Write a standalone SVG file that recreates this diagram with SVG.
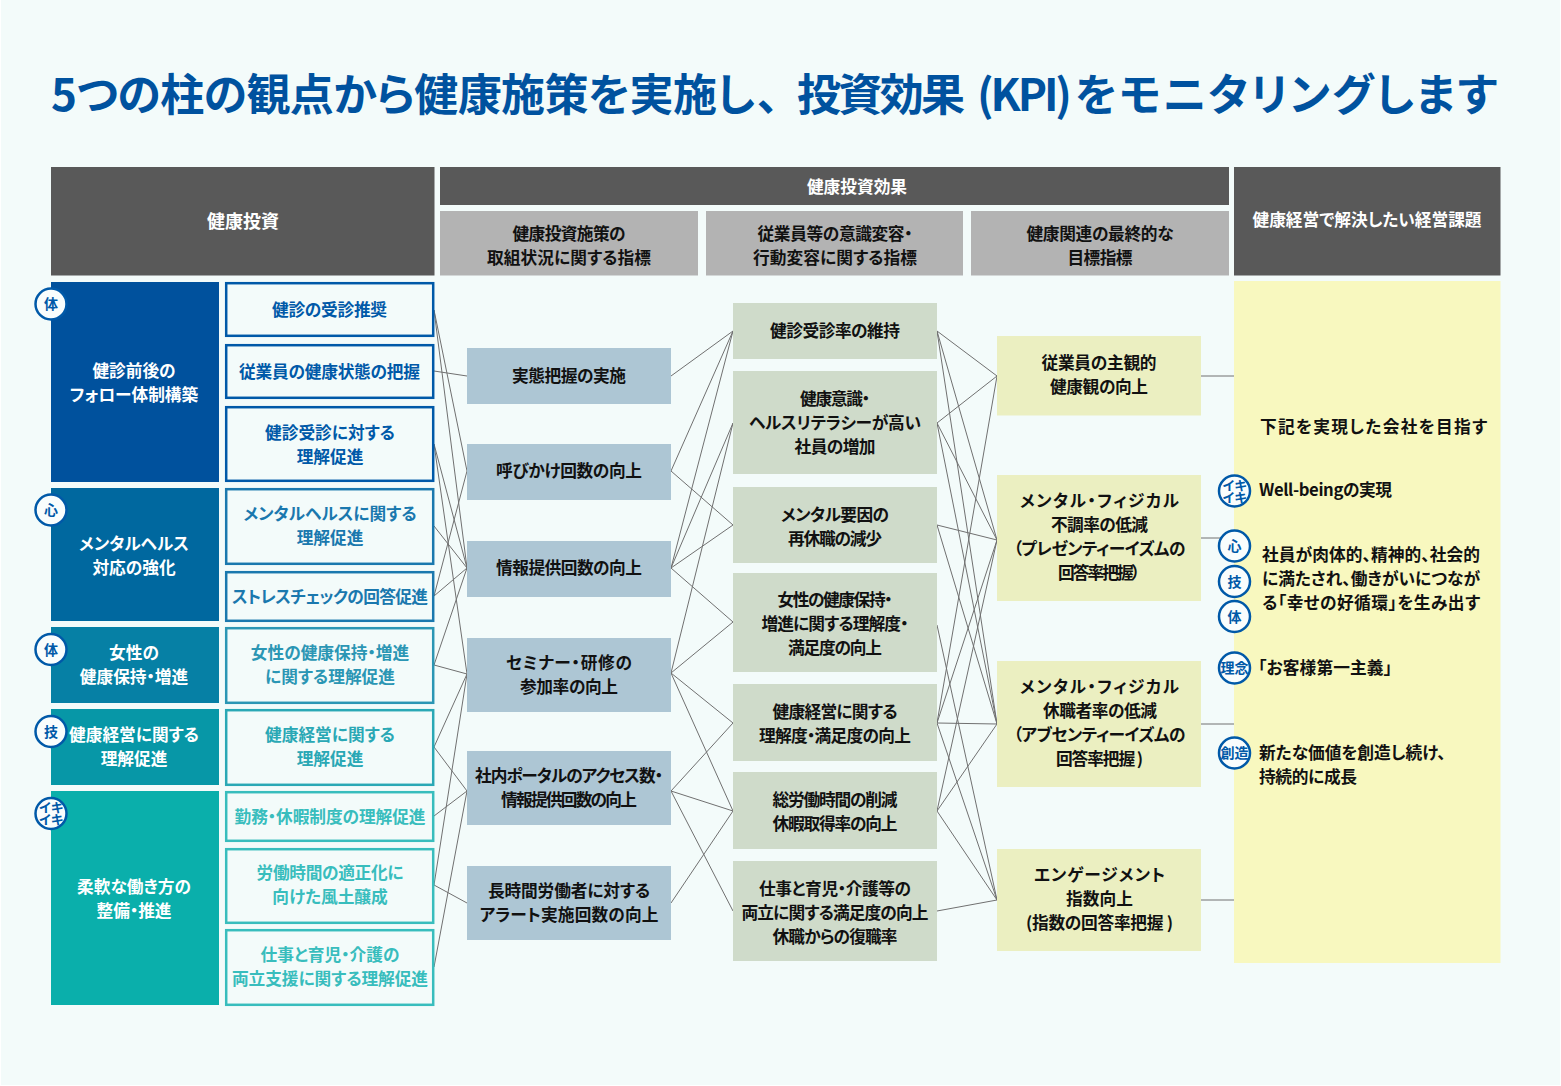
<svg xmlns="http://www.w3.org/2000/svg" width="1561" height="1086" viewBox="0 0 1561 1086">
<style>
text{font-family:"Noto Sans CJK JP","Noto Sans",sans-serif;font-weight:700;font-size:16.7px;text-anchor:middle;font-feature-settings:"palt";fill:#111}
.l{text-anchor:start}
.w{fill:#fff}
.t{font-size:44px;fill:#00529f;text-anchor:start}
.hd{fill:#595959}.sh{fill:#b3b3b3}.b{fill:#adc6d4}.c{fill:#cfdbca}.d{fill:#ebefc1}.e{fill:#f8f8bf}
.o{fill:#f3fbfa;stroke-width:2.5}
.bd{fill:#f9fdfd;stroke:#0059a8;stroke-width:2.5}
.bt{fill:#0059a8;font-size:14px}
.bs{fill:#0059a8;font-size:13px}
.c1{fill:#0059a8}.c2{fill:#1a78ae}.c3{fill:#2b96b4}.c4{fill:#2aa8b5}.c5{fill:#38bdbd}
#connectors line{stroke:#707070;stroke-width:1}
</style>
<rect width="1561" height="1086" fill="#fff"/>
<rect x="1" y="0" width="1559" height="1085" fill="#f3fbfa"/>
<text class="t" y="111"><tspan x="51" textLength="704" lengthAdjust="spacing">5つの柱の観点から健康施策を実施し</tspan><tspan x="757">、</tspan><tspan x="797" textLength="168" lengthAdjust="spacing">投資効果</tspan><tspan x="977" textLength="95" lengthAdjust="spacing">(KPI)</tspan><tspan x="1075" textLength="422" lengthAdjust="spacing">をモニタリングします</tspan></text>

<g id="connectors">
<line x1="434" y1="310" x2="467" y2="471"/><line x1="434" y1="310" x2="467" y2="568"/>
<line x1="434" y1="371" x2="467" y2="376"/>
<line x1="434" y1="444" x2="467" y2="568"/><line x1="434" y1="444" x2="467" y2="674"/>
<line x1="434" y1="526" x2="467" y2="568"/>
<line x1="434" y1="596" x2="467" y2="471"/><line x1="434" y1="596" x2="467" y2="568"/>
<line x1="434" y1="665" x2="467" y2="568"/><line x1="434" y1="665" x2="467" y2="674"/>
<line x1="434" y1="747" x2="467" y2="674"/><line x1="434" y1="747" x2="467" y2="791"/>
<line x1="434" y1="816" x2="467" y2="791"/>
<line x1="434" y1="885" x2="467" y2="674"/><line x1="434" y1="885" x2="467" y2="903"/>
<line x1="434" y1="967" x2="467" y2="791"/>

<line x1="671" y1="376" x2="733" y2="331"/>
<line x1="671" y1="471" x2="733" y2="331"/><line x1="671" y1="471" x2="733" y2="525"/>
<line x1="671" y1="568" x2="733" y2="331"/><line x1="671" y1="568" x2="733" y2="423"/><line x1="671" y1="568" x2="733" y2="525"/><line x1="671" y1="568" x2="733" y2="622"/>
<line x1="671" y1="673" x2="733" y2="423"/><line x1="671" y1="673" x2="733" y2="622"/><line x1="671" y1="673" x2="733" y2="723"/><line x1="671" y1="673" x2="733" y2="811"/>
<line x1="671" y1="791" x2="733" y2="723"/><line x1="671" y1="791" x2="733" y2="811"/><line x1="671" y1="791" x2="733" y2="911"/>
<line x1="671" y1="903" x2="733" y2="811"/>

<line x1="937" y1="331" x2="997" y2="376"/><line x1="937" y1="331" x2="997" y2="540"/><line x1="937" y1="331" x2="997" y2="724"/>
<line x1="937" y1="423" x2="997" y2="376"/><line x1="937" y1="423" x2="997" y2="540"/><line x1="937" y1="423" x2="997" y2="724"/>
<line x1="937" y1="525" x2="997" y2="540"/><line x1="937" y1="525" x2="997" y2="724"/>
<line x1="937" y1="625" x2="997" y2="900"/>
<line x1="937" y1="723" x2="997" y2="376"/><line x1="937" y1="723" x2="997" y2="540"/><line x1="937" y1="723" x2="997" y2="724"/><line x1="937" y1="723" x2="997" y2="900"/>
<line x1="937" y1="811" x2="997" y2="540"/><line x1="937" y1="811" x2="997" y2="724"/><line x1="937" y1="811" x2="997" y2="900"/>
<line x1="937" y1="911" x2="997" y2="900"/>

<line x1="1201" y1="376" x2="1234" y2="376"/><line x1="1201" y1="538" x2="1234" y2="538"/><line x1="1201" y1="724" x2="1234" y2="724"/><line x1="1201" y1="900" x2="1234" y2="900"/>
</g>

<g id="h-invest"><rect class="hd" x="51" y="167" width="383.5" height="108.5"/><text class="w" x="243" y="228" style="font-size:18px">健康投資</text></g>
<g id="h-effect"><rect class="hd" x="440" y="167" width="789" height="38"/><text class="w" x="857" y="193">健康投資効果</text></g>
<g id="h-sub1"><rect class="sh" x="440" y="211" width="258" height="64.5"/><text x="569" y="240" textLength="113">健康投資施策の</text><text x="569" y="264" textLength="164">取組状況に関する指標</text></g>
<g id="h-sub2"><rect class="sh" x="706" y="211" width="257" height="64.5"/><text x="835" y="240" textLength="155">従業員等の意識変容・</text><text x="835" y="264" textLength="164">行動変容に関する指標</text></g>
<g id="h-sub3"><rect class="sh" x="971" y="211" width="258" height="64.5"/><text x="1100" y="240" textLength="147">健康関連の最終的な</text><text x="1100" y="264" textLength="65">目標指標</text></g>
<g id="h-issue"><rect class="hd" x="1234" y="167" width="266.5" height="108.5"/><text class="w" x="1367" y="226" textLength="229">健康経営で解決したい経営課題</text></g>

<g id="g1"><rect x="51" y="282" width="168" height="200" fill="#00519d"/><text class="w" x="134" y="377">健診前後の</text><text class="w" x="134" y="401">フォロー体制構築</text><circle class="bd" cx="51" cy="304" r="15.5"/><text class="bt" x="51" y="309">体</text></g>
<g id="g2"><rect x="51" y="488" width="168" height="133" fill="#00689f"/><text class="w" x="134" y="550">メンタルヘルス</text><text class="w" x="134" y="574">対応の強化</text><circle class="bd" cx="51" cy="510" r="15.5"/><text class="bt" x="51" y="515">心</text></g>
<g id="g3"><rect x="51" y="627" width="168" height="76" fill="#0680a5"/><text class="w" x="134" y="659">女性の</text><text class="w" x="134" y="683">健康保持・増進</text><circle class="bd" cx="51" cy="649.5" r="15.5"/><text class="bt" x="51" y="654.5">体</text></g>
<g id="g4"><rect x="51" y="709" width="168" height="76" fill="#0797a7"/><text class="w" x="134" y="741">健康経営に関する</text><text class="w" x="134" y="765">理解促進</text><circle class="bd" cx="51" cy="731.5" r="15.5"/><text class="bt" x="51" y="736.5">技</text></g>
<g id="g5"><rect x="51" y="791" width="168" height="214" fill="#0aafab"/><text class="w" x="134" y="893">柔軟な働き方の</text><text class="w" x="134" y="917">整備・推進</text><circle class="bd" cx="51" cy="813.5" r="15.5"/><text class="bs" y="812"><tspan x="51">イキ</tspan><tspan x="51" dy="12">イキ</tspan></text></g>

<g id="a1"><rect class="o" x="226.2" y="283.2" width="207" height="52.6" stroke="#0059a8"/><text class="c1" x="329.5" y="316" textLength="115">健診の受診推奨</text></g>
<g id="a2"><rect class="o" x="226.2" y="345.2" width="207" height="52.6" stroke="#0059a8"/><text class="c1" x="329.5" y="378" textLength="181">従業員の健康状態の把握</text></g>
<g id="a3"><rect class="o" x="226.2" y="407.2" width="207" height="73.6" stroke="#0059a8"/><text class="c1" x="330" y="439">健診受診に対する</text><text class="c1" x="330" y="463">理解促進</text></g>
<g id="a4"><rect class="o" x="226.2" y="489.2" width="207" height="74.6" stroke="#1a78ae"/><text class="c2" x="330" y="520">メンタルヘルスに関する</text><text class="c2" x="330" y="544">理解促進</text></g>
<g id="a5"><rect class="o" x="226.2" y="572.2" width="207" height="48.6" stroke="#1a78ae"/><text class="c2" x="330" y="603" textLength="196">ストレスチェックの回答促進</text></g>
<g id="a6"><rect class="o" x="226.2" y="628.2" width="207" height="74.6" stroke="#2b96b4"/><text class="c3" x="330" y="659">女性の健康保持・増進</text><text class="c3" x="330" y="683">に関する理解促進</text></g>
<g id="a7"><rect class="o" x="226.2" y="710.2" width="207" height="74.6" stroke="#2aa8b5"/><text class="c4" x="330" y="741">健康経営に関する</text><text class="c4" x="330" y="765">理解促進</text></g>
<g id="a8"><rect class="o" x="226.2" y="792.2" width="207" height="48.6" stroke="#38bdbd"/><text class="c5" x="330" y="823" textLength="191">勤務・休暇制度の理解促進</text></g>
<g id="a9"><rect class="o" x="226.2" y="849.2" width="207" height="73.6" stroke="#38bdbd"/><text class="c5" x="330" y="879" textLength="147">労働時間の適正化に</text><text class="c5" x="330" y="903">向けた風土醸成</text></g>
<g id="a10"><rect class="o" x="226.2" y="930.2" width="207" height="74.6" stroke="#38bdbd"/><text class="c5" x="330" y="961">仕事と育児・介護の</text><text class="c5" x="330" y="985" textLength="196">両立支援に関する理解促進</text></g>

<g id="b1"><rect class="b" x="467" y="348" width="204" height="56"/><text x="569" y="382" textLength="114">実態把握の実施</text></g>
<g id="b2"><rect class="b" x="467" y="444" width="204" height="56"/><text x="569" y="477" textLength="146">呼びかけ回数の向上</text></g>
<g id="b3"><rect class="b" x="467" y="541" width="204" height="56"/><text x="569" y="574" textLength="146">情報提供回数の向上</text></g>
<g id="b4"><rect class="b" x="467" y="638" width="204" height="74"/><text x="569" y="669" textLength="126">セミナー・研修の</text><text x="569" y="693" textLength="98">参加率の向上</text></g>
<g id="b5"><rect class="b" x="467" y="751" width="204" height="74"/><text x="569" y="782" textLength="188">社内ポータルのアクセス数・</text><text x="569" y="806" textLength="136">情報提供回数の向上</text></g>
<g id="b6"><rect class="b" x="467" y="866" width="204" height="74"/><text x="569" y="897" textLength="162">長時間労働者に対する</text><text x="569" y="921" textLength="179">アラート実施回数の向上</text></g>

<g id="c1"><rect class="c" x="733" y="303" width="204" height="56"/><text x="835" y="337" textLength="130">健診受診率の維持</text></g>
<g id="c2"><rect class="c" x="733" y="371" width="204" height="103"/><text x="835" y="405" textLength="70">健康意識・</text><text x="835" y="429" textLength="172">ヘルスリテラシーが高い</text><text x="835" y="453" textLength="81">社員の増加</text></g>
<g id="c3"><rect class="c" x="733" y="487" width="204" height="76"/><text x="835" y="521" textLength="108">メンタル要因の</text><text x="835" y="545" textLength="94">再休職の減少</text></g>
<g id="c4"><rect class="c" x="733" y="573" width="204" height="99"/><text x="835" y="606" textLength="115">女性の健康保持・</text><text x="835" y="630" textLength="147">増進に関する理解度・</text><text x="835" y="654" textLength="94">満足度の向上</text></g>
<g id="c5"><rect class="c" x="733" y="684" width="204" height="77"/><text x="835" y="718" textLength="125">健康経営に関する</text><text x="835" y="742" textLength="152">理解度・満足度の向上</text></g>
<g id="c6"><rect class="c" x="733" y="772" width="204" height="77"/><text x="835" y="806" textLength="125">総労働時間の削減</text><text x="835" y="830" textLength="125">休暇取得率の向上</text></g>
<g id="c7"><rect class="c" x="733" y="861" width="204" height="100"/><text x="835" y="895" textLength="152">仕事と育児・介護等の</text><text x="835" y="919" textLength="187">両立に関する満足度の向上</text><text x="835" y="943" textLength="125">休職からの復職率</text></g>

<g id="d1"><rect class="d" x="997" y="336" width="204" height="79.5"/><text x="1099" y="369" textLength="115">従業員の主観的</text><text x="1099" y="393" textLength="98">健康観の向上</text></g>
<g id="d2"><rect class="d" x="997" y="475" width="204" height="126"/><text x="1099.5" y="507" textLength="159">メンタル・フィジカル</text><text x="1099.5" y="531" textLength="97">不調率の低減</text><text x="1099.5" y="555" textLength="172">（プレゼンティーイズムの</text><text x="1099" y="579" textLength="82">回答率把握）</text></g>
<g id="d3"><rect class="d" x="997" y="661" width="204" height="126"/><text x="1099.5" y="693" textLength="159">メンタル・フィジカル</text><text x="1100" y="717" textLength="114">休職者率の低減</text><text x="1099.5" y="741" textLength="172">（アブセンティーイズムの</text><text x="1099.5" y="765" textLength="87">回答率把握 )</text></g>
<g id="d4"><rect class="d" x="997" y="849" width="204" height="102"/><text x="1099.5" y="881" textLength="131">エンゲージメント</text><text x="1099.5" y="905" textLength="67">指数向上</text><text x="1099.5" y="929" textLength="147">(指数の回答率把握 )</text></g>

<g id="e"><rect class="e" x="1234" y="281" width="266.5" height="682"/>
<text class="l" x="1260" y="433" textLength="227">下記を実現した会社を目指す</text>
<text class="l" x="1259" y="496" textLength="133">Well-beingの実現</text>
<text class="l" x="1262" y="561" textLength="218">社員が肉体的、精神的、社会的</text>
<text class="l" x="1262" y="585" textLength="218">に満たされ、働きがいにつなが</text>
<text class="l" x="1262" y="609" textLength="218">る「幸せの好循環」を生み出す</text>
<text class="l" x="1258" y="674" textLength="134">「お客様第一主義」</text>
<text class="l" x="1259" y="759">新たな価値を創造し続け、</text>
<text class="l" x="1259" y="783" textLength="98">持続的に成長</text>
</g>
<g id="bd-ikiiki"><circle class="bd" cx="1234.5" cy="491" r="15.5"/><text class="bs" y="489.5"><tspan x="1234.5">イキ</tspan><tspan x="1234.5" dy="12">イキ</tspan></text></g>
<g id="bd-kokoro"><circle class="bd" cx="1234.5" cy="546" r="15.5"/><text class="bt" x="1234.5" y="551">心</text></g>
<g id="bd-gi"><circle class="bd" cx="1234.5" cy="581.5" r="15.5"/><text class="bt" x="1234.5" y="586.5">技</text></g>
<g id="bd-tai"><circle class="bd" cx="1234.5" cy="616.5" r="15.5"/><text class="bt" x="1234.5" y="621.5">体</text></g>
<g id="bd-rinen"><circle class="bd" cx="1234.5" cy="668" r="15.5"/><text class="bt" x="1234.5" y="673">理念</text></g>
<g id="bd-sozo"><circle class="bd" cx="1234.5" cy="753" r="15.5"/><text class="bt" x="1234.5" y="758">創造</text></g>
</svg>
